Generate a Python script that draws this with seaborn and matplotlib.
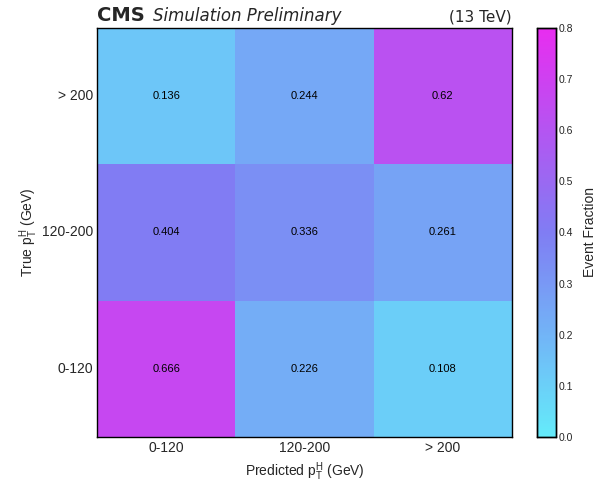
import numpy as np
import pandas as pd
import matplotlib
matplotlib.use("Agg")
import matplotlib.pyplot as plt
from matplotlib.colors import LinearSegmentedColormap
import seaborn as sns

# Bin labels (rows listed top to bottom)
pred_bins = ["0-120", "120-200", "> 200"]
true_bins = ["> 200", "120-200", "0-120"]

# Event fractions per true bin (row) and predicted bin (column)
row_gt200 = [0.136, 0.244, 0.62]
row_120_200 = [0.404, 0.336, 0.261]
row_0_120 = [0.666, 0.226, 0.108]

cbar_ticks = [0.0, 0.1, 0.2, 0.3, 0.4, 0.5, 0.6, 0.7, 0.8]

df = pd.DataFrame([row_gt200, row_120_200, row_0_120], index=true_bins, columns=pred_bins)

# Soft cyan-to-magenta map
cmap = LinearSegmentedColormap.from_list(
    "soft_cool",
    [(0.0, (100/255, 235/255, 250/255)),
     (0.5, (128/255, 125/255, 243/255)),
     (1.0, (232/255, 45/255, 240/255))])

sns.set_style("white")
plt.rcParams["font.family"] = ["Liberation Sans", "DejaVu Sans"]
plt.rcParams["mathtext.fontset"] = "custom"
plt.rcParams["mathtext.rm"] = "Liberation Sans"

fig = plt.figure(figsize=(5.97, 4.87), dpi=100)
ax = fig.add_axes([0.1625, 0.1027, 0.695, 0.8398])
cax = fig.add_axes([0.8995, 0.1027, 0.0318, 0.8398])

sns.heatmap(df, ax=ax, cbar_ax=cax, cmap=cmap, vmin=0.0, vmax=0.8,
            annot=True, fmt="g", annot_kws={"fontsize": 8, "color": "black"},
            cbar_kws={"ticks": cbar_ticks})

for s in ax.spines.values():
    s.set_visible(True)
    s.set_color("black")
    s.set_linewidth(1.0)

ax.tick_params(axis="both", direction="in", length=5, width=0.6, color="#333333",
               labelsize=10, pad=3)
ax.tick_params(axis="y", labelrotation=0)
ax.tick_params(axis="x", labelrotation=0)

ax.set_xlabel(r"Predicted $\mathrm{p}_{\mathrm{T}}^{\mathrm{H}}$ (GeV)", fontsize=10)
ax.set_ylabel(r"True $\mathrm{p}_{\mathrm{T}}^{\mathrm{H}}$ (GeV)", fontsize=10, labelpad=1.5)

cax.tick_params(direction="in", length=5, width=0.6, labelsize=7.5, pad=2)
cax.set_yticklabels([f"{t:.1f}" for t in cbar_ticks])
cax.set_ylabel("Event Fraction", fontsize=10, labelpad=7)
for s in cax.spines.values():
    s.set_visible(True)
    s.set_color("black")
    s.set_linewidth(1.0)

ax.text(0.0, 1.008, "CMS", transform=ax.transAxes, fontsize=14, fontweight="bold",
        family="DejaVu Sans", ha="left", va="bottom")
ax.text(0.135, 1.008, "Simulation Preliminary", transform=ax.transAxes, fontsize=12,
        style="italic", family="DejaVu Sans", ha="left", va="bottom")
ax.text(1.0, 1.008, "(13 TeV)", transform=ax.transAxes, fontsize=11,
        family="DejaVu Sans", ha="right", va="bottom")

fig.savefig("out.png", dpi=100)
